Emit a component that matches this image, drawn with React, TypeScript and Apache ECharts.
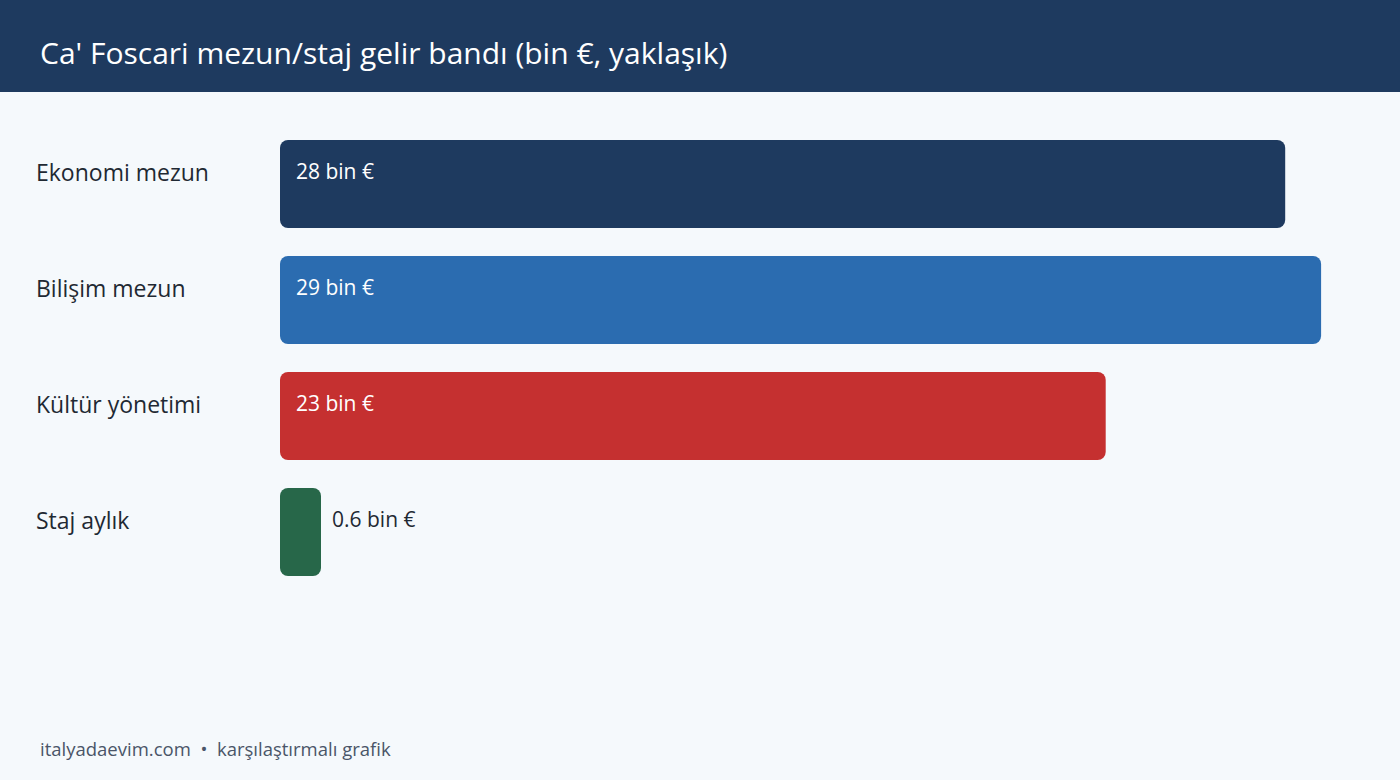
import { useEffect, useRef } from 'react'
import * as echarts from 'echarts'

const categories = ['Ekonomi mezun', 'Bilişim mezun', 'Kültür yönetimi', 'Staj aylık']
const values = [28, 29, 23, 0.6]
const barColors = ['#1e3a5f', '#2b6cb0', '#c53030', '#276749']
const insideLabel = [true, true, true, false]

const FONT = '"Open Sans", "Noto Sans", sans-serif'

export default function App() {
  const elRef = useRef<HTMLDivElement>(null)

  useEffect(() => {
    if (!elRef.current) return
    document.body.style.margin = '0'
    const chart = echarts.init(elRef.current, undefined, { renderer: 'svg' })

    const seriesData = values.map((v, i) => ({
      value: v,
      itemStyle: { color: barColors[i] },
      label: insideLabel[i]
        ? { position: 'insideLeft', distance: 16, color: '#ffffff' }
        : { position: 'right', distance: 11, color: '#1f2933' },
    }))

    chart.setOption({
      animation: false,
      backgroundColor: '#f5f9fc',
      textStyle: { fontFamily: FONT },
      title: {
        text: "Ca' Foscari mezun/staj gelir bandı (bin €, yaklaşık)",
        left: 40,
        top: 32,
        padding: 0,
        textStyle: { color: '#ffffff', fontSize: 30, fontWeight: 'normal', fontFamily: FONT, lineHeight: 40 },
      },
      graphic: [
        {
          type: 'rect',
          z: -1,
          shape: { x: 0, y: 0, width: 1400, height: 92 },
          style: { fill: '#1e3a5f' },
          silent: true,
        },
        {
          type: 'text',
          x: 40,
          y: 748,
          style: {
            text: 'italyadaevim.com  •  karşılaştırmalı grafik',
            fill: '#4a5568',
            fontSize: 18.5,
            fontFamily: FONT,
            textVerticalAlign: 'middle',
          },
        },
      ],
      grid: { left: 280, right: 43, top: 126, bottom: 190, containLabel: false },
      xAxis: { type: 'value', min: 0, max: 30, show: false },
      yAxis: {
        type: 'category',
        data: categories,
        inverse: true,
        axisLine: { show: false },
        axisTick: { show: false },
        axisLabel: {
          align: 'left',
          verticalAlign: 'bottom',
          lineHeight: 24,
          margin: 244,
          fontSize: 23,
          color: '#1f2933',
          fontFamily: FONT,
        },
      },
      series: [
        {
          type: 'bar',
          data: seriesData,
          barWidth: 88,
          barMinHeight: 41,
          itemStyle: { borderRadius: 8 },
          label: {
            show: true,
            formatter: '{c} bin €',
            fontSize: 21,
            fontFamily: FONT,
            offset: [0, -13],
          },
        },
      ],
    })

    return () => chart.dispose()
  }, [])

  return <div ref={elRef} style={{ width: 1400, height: 780 }} />
}
